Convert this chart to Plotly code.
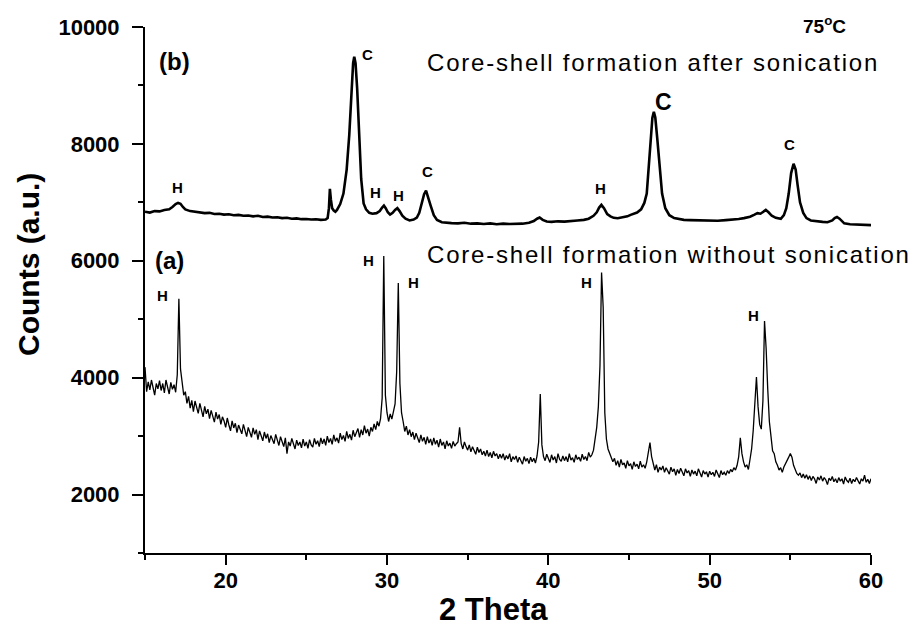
import numpy as np
import plotly.graph_objects as go

# ---------------- data ----------------
# (a) Core-shell formation without sonication: scan 15-60 deg, step 0.1
scan_a_start, scan_a_step = 15.0, 0.1
counts_a = [
    4180, 3760, 3930, 3790, 3960, 3820, 3700, 3900, 3810, 3950,  # 15
    3780, 3900, 3740, 3960, 3830, 3720, 3920, 3800, 3880, 3750,  # 16
    4050, 5350, 4150, 3900, 3700, 3760, 3560, 3680, 3480, 3610,  # 17
    3420, 3600, 3470, 3390, 3560, 3430, 3330, 3510, 3380, 3460,  # 18
    3300, 3440, 3350, 3240, 3410, 3290, 3370, 3200, 3330, 3260,  # 19
    3150, 3310, 3190, 3090, 3260, 3140, 3220, 3060, 3190, 3120,  # 20
    3040, 3200, 3080, 2990, 3150, 3060, 2980, 3140, 3030, 3110,  # 21
    2940, 3090, 3010, 2920, 3070, 2960, 3040, 2890, 3010, 2940,  # 22
    2870, 3030, 2920, 2840, 2990, 2900, 2820, 2970, 2700, 2900,  # 23
    2830, 2960, 2850, 2780, 2930, 2840, 2900, 2800, 2950, 2830,  # 24
    2900, 2790, 2940, 2850, 2810, 2960, 2860, 2920, 2820, 2970,  # 25
    2870, 2950, 2840, 3000, 2890, 2960, 2860, 3020, 2910, 2970,  # 26
    2880, 3050, 2940, 3010, 2910, 3080, 2960, 3030, 2930, 3100,  # 27
    2990, 3060, 3130, 2980, 3110, 3020, 3180, 3050, 3120, 3000,  # 28
    3150, 3080, 3210, 3110, 3250, 3170, 3300, 3650, 6080, 3700,  # 29
    3400, 3250, 3380, 3290, 3420, 3550, 4100, 5620, 3900, 3400,  # 30
    3250, 3080, 3170, 3020, 3110, 2990, 3070, 2940, 3050, 2960,  # 31
    2890, 3020, 2910, 2980, 2860, 2990, 2880, 2950, 2840, 2970,  # 32
    2860, 2930, 2810, 2950, 2840, 2900, 2780, 2920, 2830, 2880,  # 33
    2790, 2910, 2830, 2870, 2900, 3150, 2870, 2780, 2900, 2820,  # 34
    2760, 2850, 2730, 2820, 2740, 2690, 2810, 2720, 2780, 2680,  # 35
    2740, 2660, 2760, 2650, 2720, 2630, 2740, 2660, 2700, 2610,  # 36
    2690, 2620, 2700, 2590, 2670, 2610, 2700, 2560, 2650, 2600,  # 37
    2660, 2550, 2640, 2580, 2520, 2650, 2570, 2620, 2530, 2640,  # 38
    2560, 2620, 2540, 2660, 2900, 3720, 2850, 2650, 2580, 2690,  # 39
    2600, 2550, 2680, 2590, 2650, 2540, 2700, 2600, 2570, 2660,  # 40
    2580, 2650, 2560, 2700, 2590, 2630, 2550, 2680, 2600, 2640,  # 41
    2570, 2690, 2600, 2650, 2580, 2720, 2640, 2680, 2760, 2950,  # 42
    3150, 3500, 4200, 5800, 5200, 3400, 2950, 2780, 2700, 2620,  # 43
    2560, 2620, 2500, 2580, 2470, 2600, 2510, 2540, 2450, 2580,  # 44
    2490, 2530, 2430, 2560, 2480, 2520, 2440, 2570, 2470, 2510,  # 45
    2450, 2560, 2700, 2890, 2650, 2500, 2420, 2510, 2380, 2470,  # 46
    2420, 2490, 2380, 2460, 2400, 2350, 2470, 2390, 2440, 2330,  # 47
    2430, 2360, 2450, 2380, 2320, 2440, 2370, 2410, 2310, 2420,  # 48
    2350, 2400, 2320, 2440, 2360, 2300, 2410, 2350, 2390, 2300,  # 49
    2400, 2340, 2380, 2310, 2420, 2350, 2290, 2410, 2340, 2380,  # 50
    2330, 2410, 2360, 2430, 2390, 2460, 2420, 2500, 2650, 2970,  # 51
    2700, 2560, 2470, 2510, 2430, 2600, 2780, 3100, 3550, 4010,  # 52
    3500, 3200, 3120, 3600, 4970, 4500, 3800, 3250, 3000, 2750,  # 53
    2700, 2560, 2500, 2420, 2460, 2380, 2470, 2520, 2580, 2640,  # 54
    2700, 2640, 2500, 2420, 2360, 2330, 2370, 2290, 2350, 2280,  # 55
    2340, 2260, 2320, 2240, 2310, 2270, 2190, 2300, 2250, 2320,  # 56
    2230, 2290, 2250, 2170, 2280, 2240, 2310, 2220, 2270, 2200,  # 57
    2290, 2230, 2270, 2180, 2300, 2240, 2210, 2280, 2190, 2260,  # 58
    2220, 2290, 2240, 2180, 2270, 2230, 2330, 2210, 2260, 2190,  # 59
    2270,                                                        # 60
]
theta_a = np.round(scan_a_start + scan_a_step * np.arange(len(counts_a)), 2)

# (b) Core-shell formation after sonication
theta_b = [
    15.0, 15.3, 15.6, 15.9, 16.2, 16.5, 16.7, 16.9, 17.05, 17.2, 17.35, 17.5,
    17.8, 18.1, 18.4, 18.7, 19.0, 19.3, 19.6, 19.9, 20.2, 20.5, 20.8, 21.1,
    21.4, 21.7, 22.0, 22.3, 22.6, 22.9, 23.2, 23.5, 23.8, 24.1, 24.4, 24.7,
    25.0, 25.3, 25.6, 25.9, 26.2, 26.32, 26.4, 26.46, 26.52, 26.6, 26.7, 26.8,
    26.9, 27.0, 27.1, 27.3, 27.5, 27.66, 27.8, 27.9, 27.97, 28.05, 28.15, 28.28,
    28.4, 28.55, 28.7, 28.9, 29.1, 29.35, 29.55, 29.7, 29.81, 29.92, 30.05, 30.19,
    30.35, 30.5, 30.64, 30.78, 30.95, 31.15, 31.4, 31.65, 31.85, 32.0, 32.15, 32.3,
    32.42, 32.55, 32.7, 32.9, 33.1, 33.4, 33.7, 34.0, 34.4, 34.8, 35.2, 35.6,
    36.0, 36.4, 36.8, 37.2, 37.6, 38.0, 38.4, 38.8, 39.1, 39.3, 39.46, 39.65,
    39.9, 40.2, 40.6, 41.0, 41.4, 41.8, 42.2, 42.5, 42.8, 43.0, 43.15, 43.29,
    43.45, 43.65, 43.85, 44.05, 44.3, 44.6, 44.9, 45.1, 45.3, 45.5, 45.75, 45.95,
    46.1, 46.23, 46.35, 46.45, 46.54, 46.63, 46.75, 46.9, 47.05, 47.25, 47.5, 47.8,
    48.1, 48.4, 48.8, 49.2, 49.6, 50.0, 50.5, 51.0, 51.4, 51.8, 52.13, 52.5,
    52.75, 52.96, 53.15, 53.3, 53.48, 53.65, 53.85, 54.1, 54.41, 54.6, 54.75, 54.9,
    55.05, 55.2, 55.33, 55.45, 55.6, 55.8, 56.0, 56.27, 56.6, 57.0, 57.3, 57.6,
    57.75, 57.89, 58.05, 58.34, 58.7, 59.1, 59.5, 60.0,
]
counts_b = [
    6840, 6825, 6850, 6845, 6870, 6880, 6920, 6970, 6990, 6975, 6920, 6880,
    6850, 6835, 6825, 6815, 6820, 6800, 6805, 6790, 6795, 6780, 6785, 6770,
    6775, 6760, 6770, 6750, 6755, 6740, 6745, 6730, 6735, 6720, 6725, 6712,
    6715, 6705, 6710, 6700, 6705, 6730, 6900, 7230, 7050, 6900, 6860, 6840,
    6870, 6920, 6970, 7150, 7560, 8150, 8900, 9380, 9490, 9380, 8950, 8150,
    7400, 6980, 6880, 6820, 6805, 6815, 6850, 6910, 6945, 6900, 6830, 6790,
    6820, 6870, 6900, 6850, 6770, 6720, 6690, 6705, 6740, 6820, 6960, 7140,
    7200, 7100, 6950, 6780, 6700, 6660, 6650, 6645, 6640, 6650, 6635, 6640,
    6630, 6640, 6625, 6635, 6630, 6627, 6635, 6650, 6680, 6720, 6740, 6700,
    6672, 6665, 6675, 6670, 6685, 6690, 6700, 6720, 6770, 6830, 6910, 6957,
    6900, 6800, 6760, 6735, 6728, 6740, 6760, 6786, 6800, 6826, 6880, 6990,
    7150, 7650, 8150, 8450, 8550, 8450, 8100, 7600, 7150, 6900, 6780, 6730,
    6710, 6700, 6695, 6690, 6690, 6685, 6684, 6695, 6700, 6715, 6730, 6755,
    6786, 6814, 6805, 6840, 6870, 6830, 6770, 6735, 6717, 6780, 6900, 7150,
    7500, 7660, 7560, 7300, 7000, 6820, 6730, 6690, 6675, 6665, 6660, 6690,
    6730, 6750, 6720, 6640, 6625, 6620, 6615, 6610,
]

# peak labels: (text, 2theta, counts, size)
labels_b = [("H", 17.0, 7248, 15), ("C", 28.8, 9521, 15), ("H", 29.3, 7171, 15),
            ("H", 30.73, 7111, 15), ("C", 32.53, 7521, 15), ("H", 43.26, 7231, 15),
            ("C", 47.16, 8718, 23), ("C", 54.97, 7983, 15)]
labels_a = [("H", 16.09, 5402, 15), ("H", 28.87, 6000, 15), ("H", 31.66, 5624, 15),
            ("H", 42.39, 5624, 15), ("H", 52.74, 5060, 15)]

x_ticks = [20, 30, 40, 50, 60]
y_ticks = [2000, 4000, 6000, 8000, 10000]
y_tick_text = ["2000", "4000", "6000", "8000", "10000"]

FONT = "Liberation Sans, Arial, sans-serif"

fig = go.Figure()
fig.add_trace(go.Scatter(x=theta_a, y=counts_a, mode="lines",
                         line=dict(color="black", width=1.3), showlegend=False))
fig.add_trace(go.Scatter(x=theta_b, y=counts_b, mode="lines",
                         line=dict(color="black", width=2.6), showlegend=False))

ann = []
for t, x, y, s in labels_b + labels_a:
    ann.append(dict(text=t, x=x, y=y, xref="x", yref="y", showarrow=False,
                    xanchor="center", yanchor="middle",
                    font=dict(family=FONT, size=s, color="black", weight="bold")))

ann += [
    dict(text="(b)", x=16.83, y=9402, xref="x", yref="y", showarrow=False,
         xanchor="center", yanchor="middle",
         font=dict(family=FONT, size=24, color="black", weight="bold")),
    dict(text="(a)", x=16.52, y=6000, xref="x", yref="y", showarrow=False,
         xanchor="center", yanchor="middle",
         font=dict(family=FONT, size=24, color="black", weight="bold")),
    dict(text='<span style="letter-spacing:1.8px">Core-shell formation after sonication</span>',
         x=32.34, y=9385, xref="x", yref="y", xanchor="left", yanchor="middle",
         showarrow=False, font=dict(family=FONT, size=24, color="black")),
    dict(text='<span style="letter-spacing:1.8px">Core-shell formation without sonication</span>',
         x=32.34, y=6103, xref="x", yref="y", xanchor="left", yanchor="middle",
         showarrow=False, font=dict(family=FONT, size=24, color="black")),
    dict(text="75<sup>o</sup>C", x=0.9366, y=1.0038, xref="paper", yref="paper",
         xanchor="center", yanchor="middle", showarrow=False,
         font=dict(family=FONT, size=19, color="black", weight="bold")),
    dict(text="Counts (a.u.)", x=-0.1612, y=0.5494, xref="paper", yref="paper",
         xanchor="center", yanchor="middle", textangle=-90, showarrow=False,
         font=dict(family=FONT, size=30, color="black", weight="bold")),
    dict(text="2 Theta", x=0.4807, y=-0.1065, xref="paper", yref="paper",
         xanchor="center", yanchor="middle", showarrow=False,
         font=dict(family=FONT, size=31, color="black", weight="bold")),
]

fig.update_layout(
    width=914, height=627,
    margin=dict(l=145, r=43, t=27, b=74),
    paper_bgcolor="white", plot_bgcolor="white",
    annotations=ann,
    xaxis=dict(range=[15, 60], tickvals=x_ticks, ticks="outside", ticklen=10,
               tickwidth=2, tickcolor="black", showline=True, linewidth=2,
               linecolor="black", showgrid=False, zeroline=False,
               tickfont=dict(family=FONT, size=22, color="black", weight="bold"),
               ticklabelstandoff=-3,
               minor=dict(dtick=5, tick0=15, ticks="outside", ticklen=5,
                          tickwidth=2, tickcolor="black", showgrid=False)),
    yaxis=dict(range=[1000, 10000], tickvals=y_ticks, ticktext=y_tick_text,
               ticks="outside", ticklen=11,
               tickwidth=2, tickcolor="black", showline=True, linewidth=2,
               linecolor="black", showgrid=False, zeroline=False,
               tickfont=dict(family=FONT, size=22, color="black", weight="bold"),
               ticklabelstandoff=8,
               minor=dict(dtick=1000, tick0=1000, ticks="outside", ticklen=5,
                          tickwidth=2, tickcolor="black", showgrid=False)),
)

fig.write_html("out.html",
               config={"displayModeBar": False, "staticPlot": True},
               post_script="document.body.style.margin='0';document.body.style.overflow='hidden';")
